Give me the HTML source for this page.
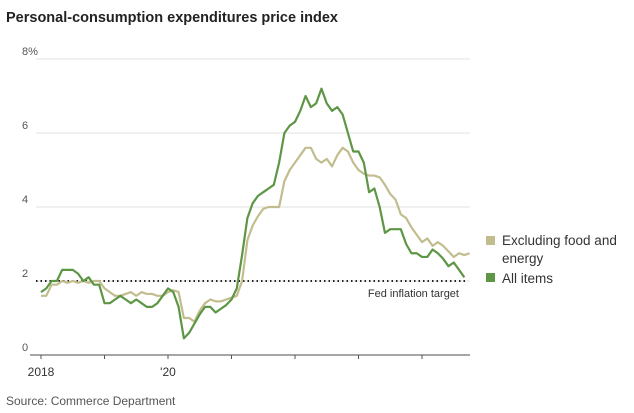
<!DOCTYPE html>
<html><head><meta charset="utf-8"><style>
body{margin:0;background:#fff;font-family:"Liberation Sans",sans-serif;}
svg{display:block}
</style></head><body>
<svg width="634" height="413" id="c">
<text x="6" y="22" font-size="14.5" font-weight="bold" fill="#222">Personal-consumption expenditures price index</text>
<text x="6" y="405" font-size="12" fill="#555">Source: Commerce Department</text>
<g id="grid"></g><g id="lines"></g>
<g>
<rect x="486" y="236" width="9" height="9" fill="#c2bd8e"/>
<text x="502" y="245" font-size="13.5" fill="#333">Excluding food and</text>
<text x="502" y="263" font-size="13.5" fill="#333">energy</text>
<rect x="486" y="273" width="9" height="9" fill="#5d9644"/>
<text x="502" y="283" font-size="13.5" fill="#333">All items</text>
</g>
</svg>
<script>
const yTicks=[0,2,4,6,8];
const xTickLabels=["2018","","'20","","","",""];
const allItems=[1.7,1.8,2.0,2.0,2.3,2.3,2.3,2.2,2.0,2.1,1.9,1.9,
1.4,1.4,1.5,1.6,1.5,1.4,1.5,1.4,1.3,1.3,1.4,1.6,
1.8,1.7,1.3,0.45,0.6,0.85,1.1,1.3,1.3,1.15,1.25,1.35,
1.5,1.8,2.7,3.7,4.1,4.3,4.4,4.5,4.6,5.2,6.0,6.2,
6.3,6.6,7.0,6.7,6.8,7.2,6.8,6.6,6.7,6.5,6.0,5.5,
5.5,5.2,4.4,4.5,4.0,3.3,3.4,3.4,3.4,3.0,2.75,2.75,
2.65,2.65,2.85,2.75,2.6,2.4,2.5,2.3,2.1];
const coreItems=[1.6,1.6,1.9,1.9,2.0,1.95,2.0,1.95,2.0,1.95,2.0,2.0,
1.8,1.7,1.6,1.6,1.65,1.7,1.6,1.7,1.65,1.65,1.6,1.6,
1.7,1.75,1.7,1.0,1.0,0.9,1.2,1.4,1.5,1.45,1.45,1.5,
1.55,1.6,2.0,3.1,3.5,3.75,3.95,4.0,4.0,4.0,4.7,5.0,
5.2,5.4,5.6,5.6,5.3,5.2,5.3,5.1,5.4,5.6,5.5,5.2,
5.0,4.9,4.85,4.85,4.8,4.6,4.35,4.2,3.8,3.7,3.45,3.25,
3.05,3.15,2.95,3.05,2.95,2.8,2.65,2.75,2.7,2.75];
const X0=41,MW=63.5/12,Y0=355,YU=37;
const x=i=>X0+i*MW, y=v=>Y0-v*YU;
const ns="http://www.w3.org/2000/svg";
const g=document.getElementById('grid'),L=document.getElementById('lines');
function mk(tag,at,par){const e=document.createElementNS(ns,tag);for(const k in at)e.setAttribute(k,at[k]);par.appendChild(e);return e;}
yTicks.forEach(v=>{
 if(v>0){const l=mk('line',{x1:36,x2:470,y1:y(v),y2:y(v),stroke:'#ebebeb','stroke-width':1.5},g);
 
 }
 const t=mk('text',{x:22,y:y(v)-4,'font-size':11,fill:'#555'},g);t.textContent=v===8?'8%':String(v);
 
 
});
const ax=mk('line',{x1:30,x2:470,y1:Y0,y2:Y0,stroke:'#888','stroke-width':1.5},g);


xTickLabels.forEach((lab,k)=>{
 const xx=x(k*12);
 const tk=mk('line',{x1:xx,x2:xx,y1:Y0,y2:Y0+4,stroke:'#555'},g);
 
 
 if(lab){const t=mk('text',{x:xx,y:376,'font-size':12,fill:'#333','text-anchor':'middle'},g);t.textContent=lab;
 
 }
});
const tg=mk('line',{x1:36,x2:468,y1:y(2),y2:y(2),stroke:'#222','stroke-width':2,'stroke-dasharray':'1.5 3'},g);


const tt=mk('text',{x:459,y:297,'font-size':11,fill:'#333','text-anchor':'end'},g);tt.textContent='Fed inflation target';


function line(arr,col,name){const p=mk('polyline',{points:arr.map((v,i)=>x(i)+','+y(v)).join(' '),fill:'none',stroke:col,'stroke-width':2.2,'stroke-linejoin':'round'},L);
 
 }
line(coreItems,'#c2bd8e','core-line');
line(allItems,'#5d9644','all-items-line');
</script>
</body></html>
